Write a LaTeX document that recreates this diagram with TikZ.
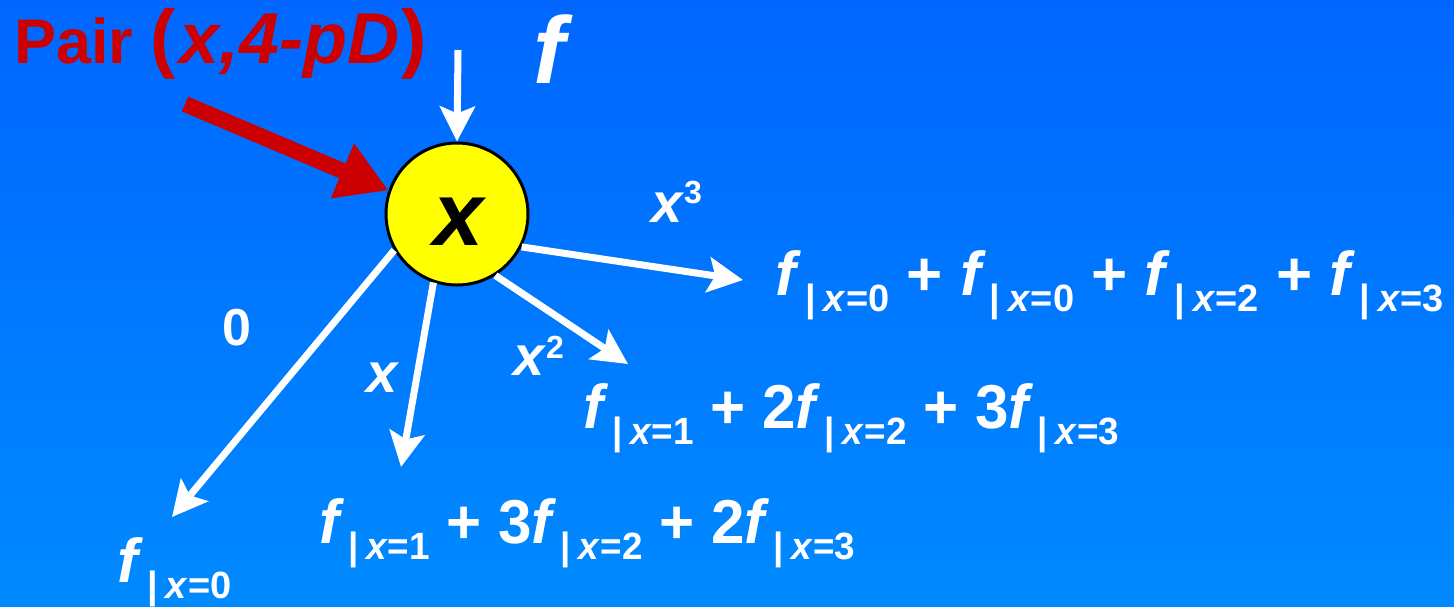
\documentclass[tikz,border=0pt]{standalone}
\usepackage{fontspec}
\setmainfont{Liberation Sans}
\usetikzlibrary{arrows.meta}
\definecolor{bgtop}{RGB}{0,102,255}
\definecolor{bgbot}{RGB}{0,138,255}
\definecolor{pairred}{RGB}{204,0,0}
\definecolor{nodeyellow}{RGB}{255,255,0}
\newcommand{\fsb}[1]{\textit{f}\kern4pt\raisebox{-16pt}{\fontsize{38}{38}\selectfont|\kern8pt\textit{x}=#1}}
\tikzset{
  txt/.style={inner sep=0pt, text=white, anchor=base west},
  expr/.style={txt, font=\fontsize{62}{70}\selectfont\bfseries},
  lab/.style={txt, font=\fontsize{56}{60}\selectfont\bfseries},
  warrow/.style={draw=white, line width=7pt, -{Stealth[length=35pt,width=35pt,inset=7pt]}},
  rarrow/.style={draw=pairred, line width=16pt, -{Triangle[length=50pt,width=56pt]}},
  bubble/.style={circle, draw=black, line width=3pt, fill=nodeyellow, minimum size=142pt, inner sep=0pt}
}
\begin{document}
\begin{tikzpicture}[x=1pt,y=-1pt]
\fill[top color=bgtop, bottom color=bgbot] (0,0) rectangle (1454,606);
\useasboundingbox (0,0) rectangle (1454,606);

\node[bubble] (c) at (457,214) {};
\node[inner sep=0pt, anchor=base, font=\fontsize{90}{90}\selectfont\bfseries] (cx) at (460,245) {\textit{x}};

\node[txt, text=pairred, font=\fontsize{63}{70}\selectfont\bfseries] (pair) at (14,63)
  {Pair {\fontsize{76}{80}\selectfont(}{\fontsize{72}{80}\selectfont\kern3pt\textit{x,4-pD}\kern2pt}{\fontsize{76}{80}\selectfont)}};
\node[txt, font=\fontsize{95}{100}\selectfont\bfseries] (ftop) at (533,83) {\textit{f}};

\coordinate (rs) at (185,104);
\coordinate (ds) at (458,50);
\coordinate (t3) at (743,280);
\coordinate (t2) at (628,364);
\coordinate (t1) at (401,467);
\coordinate (t0) at (172,517);

\draw[rarrow] (rs) -- (c.161);
\draw[warrow] (ds) -- (c.north);
\draw[warrow] (c.-27) -- (t3);
\draw[warrow] (c.-58) -- (t2);
\draw[warrow] (c.-109) -- (t1);
\draw[warrow] (c.-150) -- (t0);

\node[lab, font=\fontsize{52}{60}\selectfont\bfseries] (l0) at (222,345) {0};
\node[lab] (l1) at (366,392) {\textit{x}};
\node[lab] (l2) at (513,375) {\textit{x}\raisebox{17pt}{\fontsize{32}{32}\selectfont 2}};
\node[lab] (l3) at (651,222) {\textit{x}\raisebox{19pt}{\fontsize{32}{32}\selectfont 3}};

\node[expr] (e3) at (775,295) {\fsb{0} + \fsb{0} + \fsb{2} + \fsb{3}};
\node[expr, xscale=0.97, transform shape] (e2) at (583,428) {\fsb{1} + 2\fsb{2} + 3\fsb{3}};
\node[expr, xscale=0.97, transform shape] (e1) at (319,543) {\fsb{1} + 3\fsb{2} + 2\fsb{3}};
\node[expr] (e0) at (117,582) {\fsb{0}};
\end{tikzpicture}
\end{document}
